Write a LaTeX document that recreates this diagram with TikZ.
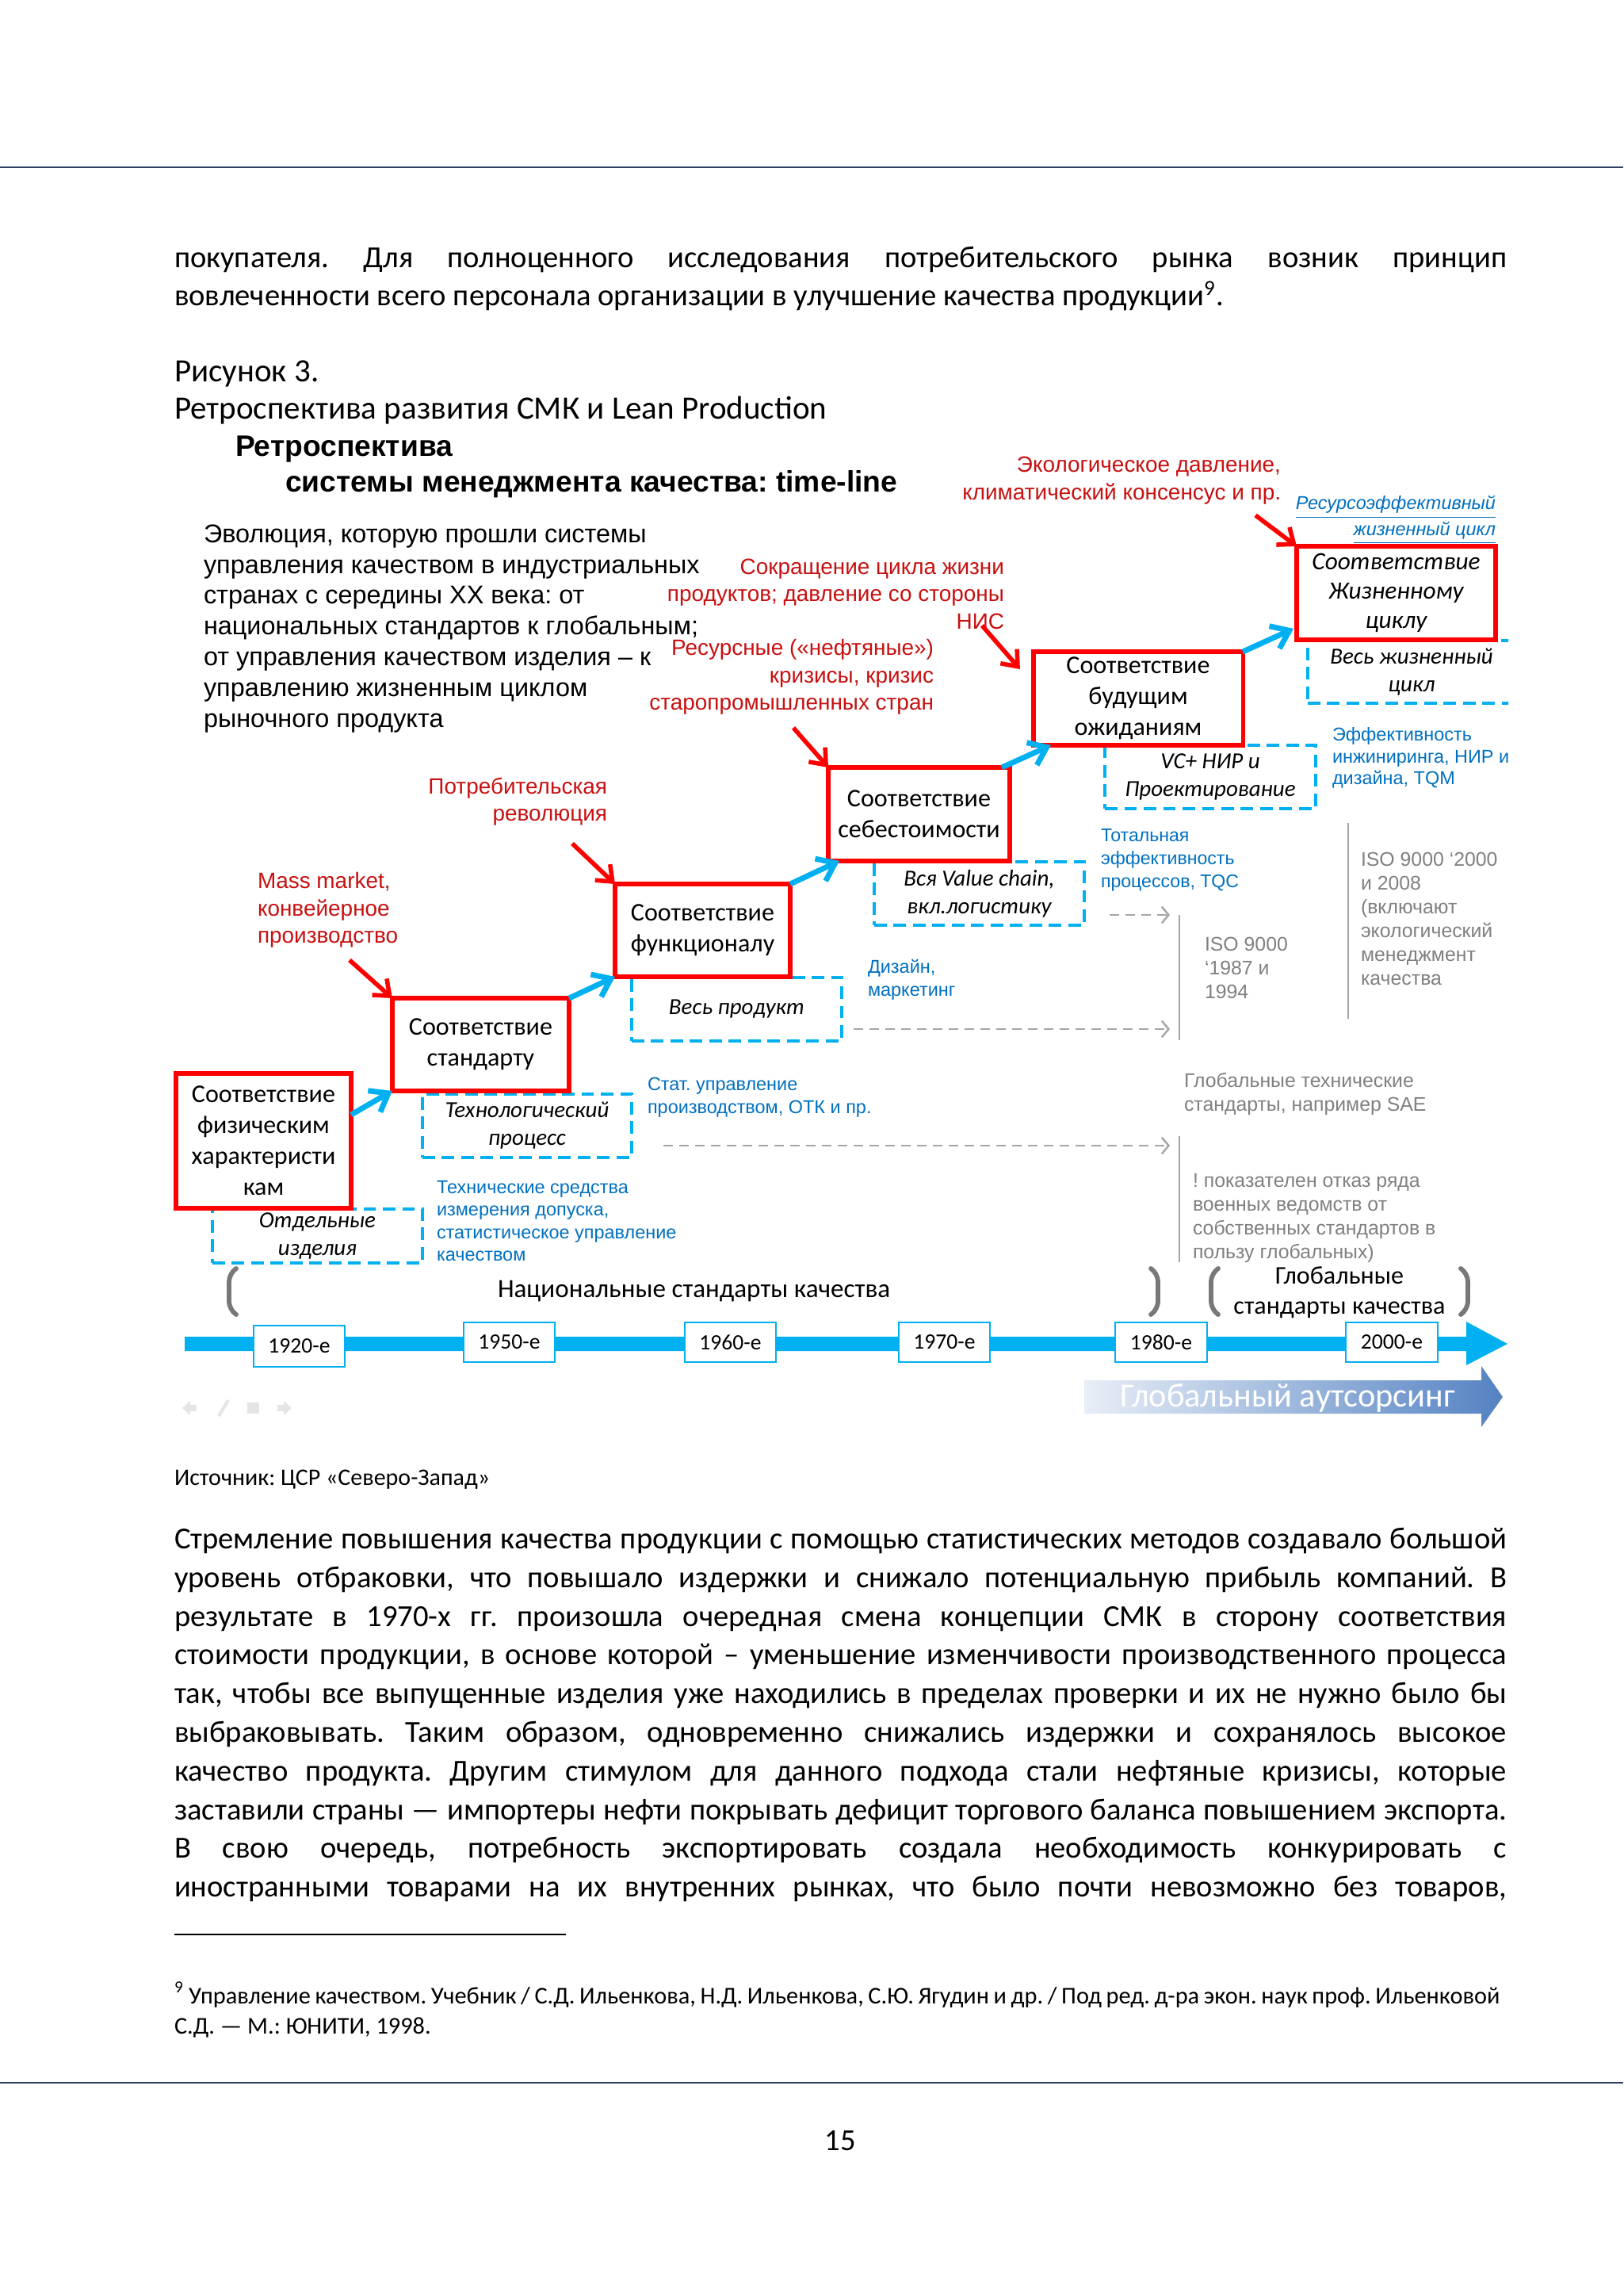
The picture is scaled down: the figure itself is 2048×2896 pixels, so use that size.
\documentclass[tikz,border=0pt]{standalone}
\usepackage{fontspec}
\setmainfont{Carlito}
\newfontfamily\arialf{Liberation Sans}
\usetikzlibrary{arrows.meta,calc}
\definecolor{navy}{RGB}{47,62,96}
\definecolor{boxred}{RGB}{255,0,0}
\definecolor{annred}{RGB}{200,16,16}
\definecolor{cyanb}{RGB}{0,176,240}
\definecolor{txtblue}{RGB}{0,112,192}
\definecolor{txtgray}{RGB}{128,128,128}
\definecolor{linegray}{RGB}{165,165,165}
\definecolor{brgray}{RGB}{120,120,120}
\definecolor{outL}{RGB}{232,238,247}
\definecolor{outR}{RGB}{84,130,194}
\newcommand{\fsz}[2]{\fontsize{#1}{#2}\selectfont}
\newcommand{\jline}[2]{\makebox[#1][s]{#2}}
\frenchspacing
\begin{document}
\frenchspacing
\begin{tikzpicture}[x=0.29pt,y=-0.29pt,
  every node/.style={inner sep=0pt, outer sep=0pt},
  pline/.style={anchor=base west, font=\fsz{11.2}{14.2}},
  redbox/.style={draw=boxred, line width=1.5pt, fill=white, align=center, font=\fsz{9.3}{11.3}},
  dbox/.style={draw=cyanb, line width=1.3pt, dash pattern=on 4.6pt off 2.5pt, align=center, font=\itshape\fsz{8.4}{10.2}},
  yearbox/.style={draw=cyanb, line width=0.6pt, fill=white, minimum width=33.4pt, minimum height=14.6pt, font=\fsz{8}{9}},
  redann/.style={text=annred, font=\arialf\fsz{8.1}{10}},
  blueann/.style={text=txtblue, anchor=west, align=left, font=\arialf\fsz{6.8}{8.3}},
  grayann/.style={text=txtgray, anchor=west, align=left, font=\arialf\fsz{7.2}{8.7}},
  cyarrow/.style={draw=cyanb, line width=2pt, -{Straight Barb[length=6pt,width=9pt]}},
  redarrow/.style={draw=boxred, line width=1.6pt, -{Straight Barb[length=5pt,width=8pt]}},
  garrow/.style={draw=linegray, line width=0.7pt, dash pattern=on 3.5pt off 2.3pt, -{Straight Barb[length=2.5pt,width=6pt]}},
  gline/.style={draw=linegray, line width=0.7pt},
  brk/.style={draw=brgray, line width=1.7pt, rounded corners=3pt, line cap=round},
]
\useasboundingbox (0,0) rectangle (2048,2896);
\fill[white] (0,0) rectangle (2048,2896);

% page rules
\draw[navy, line width=0.7pt] (0,211) -- (2048,211);
\draw[navy, line width=0.7pt] (0,2627) -- (2048,2627);

% top paragraph
\node[pline] (p1) at (220,338) {\jline{487.5pt}{покупателя. Для полноценного исследования потребительского рынка возник принцип}};
\node[pline] (p2) at (220,386) {вовлеченности всего персонала организации в улучшение качества продукции\textsuperscript{9}.};
\node[pline, font=\fsz{11.9}{14.2}] (fig) at (220,482) {Рисунок 3.};
\node[pline, font=\fsz{11.9}{14.2}] (figt) at (220,529) {Ретроспектива развития СМК и Lean Production};

% ===== diagram =====
\node[anchor=west, font=\arialf\bfseries\fsz{10.8}{12}] (t1) at (297,567) {Ретроспектива};
\node[anchor=west, font=\arialf\bfseries\fsz{10.8}{12}] (t2) at (360,611) {системы менеджмента качества: time-line};

\node[anchor=west, align=left, font=\arialf\fsz{9.4}{11.3}] (intro) at (257,793) {Эволюция, которую прошли системы\\управления качеством в индустриальных\\странах с середины XX века: от\\национальных стандартов к глобальным;\\от управления качеством изделия – к\\управлению жизненным циклом\\рыночного продукта};

% red annotations
\node[redann, anchor=east, align=right] (a6) at (1616,606) {Экологическое давление,\\климатический консенсус и пр.};
\node[redann, anchor=east, align=right] (a5) at (1267,749) {Сокращение цикла жизни\\продуктов; давление со стороны\\НИС};
\node[redann, anchor=east, align=right] (a4) at (1178,854) {Ресурсные («нефтяные»)\\кризисы, кризис\\старопромышленных стран};
\node[redann, anchor=east, align=right] (a3) at (766,1011) {Потребительская\\революция};
\node[redann, anchor=west, align=left] (a2) at (325,1148) {Mass market,\\конвейерное\\производство};

\node[anchor=east, align=right, text=txtblue, font=\arialf\itshape\fsz{6.8}{8.2}] (res) at (1887,656) {\underline{Ресурсоэффективный}\\\underline{жизненный цикл}};

% dashed boxes
\begin{scope}
\clip (0,0) rectangle (1903,2896);
\node[dbox, minimum width=76pt, minimum height=22.9pt] (d6) at (1781,847.5) {Весь жизненный\\цикл};
\node[blueann, font=\arialf\fsz{6.8}{8}] (effeng) at (1681,956) {Эффективность\\инжиниринга, НИР и\\дизайна, TQM};
\end{scope}
\node[dbox, minimum width=76.9pt, minimum height=19.7pt] (d1) at (400.5,1559) {Отдельные\\изделия};
\node[dbox, minimum width=76.6pt, minimum height=23.2pt] (d2) at (665,1420) {Технологический\\процесс};
\node[dbox, minimum width=76.9pt, minimum height=23.2pt] (d3) at (929.5,1273) {Весь продукт};
\node[dbox, minimum width=76.9pt, minimum height=23.2pt] (d4) at (1235.5,1127) {Вся Value chain,\\вкл.логистику};
\node[dbox, minimum width=77.1pt, minimum height=23.2pt] (d5) at (1527,980) {VC+ НИР и\\Проектирование};

% red boxes
\node[redbox, minimum width=64.1pt, minimum height=49.3pt] (b1) at (332.5,1439) {Соответствие\\физическим\\характеристи\\кам};
\node[redbox, minimum width=64.7pt, minimum height=33.9pt] (b2) at (606.5,1317.5) {Соответствие\\стандарту};
\node[redbox, minimum width=64.1pt, minimum height=33.9pt] (b3) at (886.5,1173.5) {Соответствие\\функционалу};
\node[redbox, minimum width=66.4pt, minimum height=34.2pt] (b4) at (1159.5,1027) {Соответствие\\себестоимости};
\node[redbox, minimum width=76.6pt, minimum height=34.2pt] (b5) at (1436,881) {Соответствие\\будущим\\ожиданиям};
\node[redbox, minimum width=72.8pt, minimum height=34.2pt, font=\itshape\fsz{9.1}{10.8}] (b6) at (1761.5,748) {Соответствие\\Жизненному\\циклу};

% cyan arrows between boxes
\draw[cyarrow] ($(b1.north east)+(0,52)$) -- (b2.south west);
\draw[cyarrow] (b2.north east) -- (b3.south west);
\draw[cyarrow] (b3.north east) -- ($(b4.south west)+(14,0)$);
\draw[cyarrow] ($(b4.north east)+(-10,0)$) -- ($(b5.south west)+(22,0)$);
\draw[cyarrow] (b5.north east) -- ($(b6.south west)+(-4,-14)$);

% red arrows
\coordinate (r2) at (441,1211);
\coordinate (r3) at (722,1064);
\coordinate (r4) at (1001,918);
\coordinate (r5) at (1239,789);
\coordinate (r6) at (1584,650);
\draw[redarrow] (r2) -- (b2.north west);
\draw[redarrow] (r3) -- (b3.north west);
\draw[redarrow] (r4) -- (b4.north west);
\draw[redarrow] (r5) -- ($(b5.north west)+(-17,22)$);
\draw[redarrow] (r6) -- (b6.north west);

% blue annotations
\node[blueann] (tech) at (551,1540) {Технические средства\\измерения допуска,\\статистическое управление\\качеством};
\node[blueann] (stat) at (817,1384) {Стат. управление\\производством, ОТК и пр.};
\node[blueann] (diz) at (1095,1236) {Дизайн,\\маркетинг};
\node[blueann, font=\arialf\fsz{6.7}{8.4}] (tot) at (1389,1085) {Тотальная\\эффективность\\процессов, TQC};

% gray annotations
\node[grayann] (iso2) at (1717,1159) {ISO 9000 ‘2000\\и 2008\\(включают\\экологический\\менеджмент\\качества};
\node[grayann] (iso1) at (1520,1221) {ISO 9000\\‘1987 и\\1994};
\node[grayann] (gts) at (1494,1380) {Глобальные технические\\стандарты, например SAE};
\node[grayann] (mil) at (1505,1537) {! показателен отказ ряда\\военных ведомств от\\собственных стандартов в\\пользу глобальных)};

% gray vertical lines
\coordinate (v2t) at (1701,1038); \coordinate (v2b) at (1701,1285);
\coordinate (v1t) at (1488,1154); \coordinate (v1b) at (1488,1312);
\coordinate (v0t) at (1488,1433); \coordinate (v0b) at (1488,1592);
\draw[gline] (v2t) -- (v2b);
\draw[gline] (v1t) -- (v1b);
\draw[gline] (v0t) -- (v0b);
% gray dashed arrows
\coordinate (g1s) at (1400,1154); \coordinate (g1e) at (1476,1154);
\coordinate (g2s) at (1077,1298); \coordinate (g2e) at (1476,1298);
\coordinate (g3s) at (837,1445);  \coordinate (g3e) at (1476,1445);
\draw[garrow] (g1s) -- (g1e);
\draw[garrow] (g2s) -- (g2e);
\draw[garrow] (g3s) -- (g3e);

% brackets
\draw[brk] (298,1600) -- (289,1606) -- (289,1652) -- (298,1658);
\draw[brk] (1452,1600) -- (1461,1606) -- (1461,1652) -- (1452,1658);
\draw[brk] (1537,1600) -- (1528,1606) -- (1528,1652) -- (1537,1658);
\draw[brk] (1843,1600) -- (1852,1606) -- (1852,1652) -- (1843,1658);
\node[anchor=west, font=\fsz{9.6}{11}] (nat) at (628,1629) {Национальные стандарты качества};
\node[align=center, font=\fsz{9.3}{11}] (glob) at (1690,1630) {Глобальные\\стандарты качества};

% timeline
\fill[cyanb] (233,1686) -- (1850,1686) -- (1850,1667) -- (1902,1695) -- (1850,1722) -- (1850,1704) -- (233,1704) -- cycle;
\node[yearbox, minimum height=15pt] (y1920) at (377.5,1698) {1920-е};
\node[yearbox] (y1950) at (642.5,1693) {1950-е};
\node[yearbox] (y1960) at (921.5,1693) {1960-е};
\node[yearbox] (y1970) at (1191.5,1693) {1970-е};
\node[yearbox] (y1980) at (1465,1693) {1980-е};
\node[yearbox] (y2000) at (1756,1693) {2000-е};

% outsourcing banner
\shade[left color=outL, right color=outR] (1368,1741) -- (1869,1741) -- (1869,1723) -- (1896,1762) -- (1869,1800) -- (1869,1783) -- (1368,1783) -- cycle;
\node[text=white, font=\fsz{12.3}{14}] (outs) at (1625,1763) {Глобальный аутсорсинг};

% faint navigation icons
\begin{scope}[black!10]
\fill (230,1776) -- (240,1767) -- (240,1785) -- cycle;
\fill (240,1772) rectangle (248,1780);
\draw[line width=1.2pt] (276,1786) -- (288,1766);
\fill (312,1769) rectangle (327,1783);
\fill (368,1776) -- (358,1767) -- (358,1785) -- cycle;
\fill (350,1772) rectangle (358,1780);
\end{scope}

% ===== after diagram =====
\node[anchor=base west, font=\fsz{8.7}{10}] (src) at (220,1873) {Источник: ЦСР «Северо-Запад»};

\node[pline] (m1) at (220,1953) {\jline{487.5pt}{Стремление повышения качества продукции с помощью статистических методов создавало большой}};
\node[pline] (m2) at (220,2002) {\jline{487.5pt}{уровень отбраковки, что повышало издержки и снижало потенциальную прибыль компаний. В}};
\node[pline] (m3) at (220,2051) {\jline{487.5pt}{результате в 1970-х гг. произошла очередная смена концепции СМК в сторону соответствия}};
\node[pline] (m4) at (220,2099) {\jline{487.5pt}{стоимости продукции, в основе которой – уменьшение изменчивости производственного процесса}};
\node[pline] (m5) at (220,2148) {\jline{487.5pt}{так, чтобы все выпущенные изделия уже находились в пределах проверки и их не нужно было бы}};
\node[pline] (m6) at (220,2197) {\jline{487.5pt}{выбраковывать. Таким образом, одновременно снижались издержки и сохранялось высокое}};
\node[pline] (m7) at (220,2246) {\jline{487.5pt}{качество продукта. Другим стимулом для данного подхода стали нефтяные кризисы, которые}};
\node[pline] (m8) at (220,2295) {\jline{487.5pt}{заставили страны — импортеры нефти покрывать дефицит торгового баланса повышением экспорта.}};
\node[pline] (m9) at (220,2343) {\jline{487.5pt}{В свою очередь, потребность экспортировать создала необходимость конкурировать с}};
\node[pline] (m10) at (220,2392) {\jline{487.5pt}{иностранными товарами на их внутренних рынках, что было почти невозможно без товаров,}};

% footnote
\draw[black, line width=0.6pt] (220,2440) -- (714,2440);
\node[anchor=base west, font=\fsz{8.8}{10.7}] (fn1) at (220,2527) {\jline{485pt}{\textsuperscript{9} Управление качеством. Учебник / С.Д. Ильенкова, Н.Д. Ильенкова, С.Ю. Ягудин и др. / Под ред. д-ра экон. наук проф. Ильенковой}};
\node[anchor=base west, font=\fsz{8.8}{10.7}] (fn2) at (220,2565) {С.Д. — М.: ЮНИТИ, 1998.};

\node[anchor=base, font=\fsz{11.2}{14}] (pg) at (1060,2712) {15};
\end{tikzpicture}
\end{document}
